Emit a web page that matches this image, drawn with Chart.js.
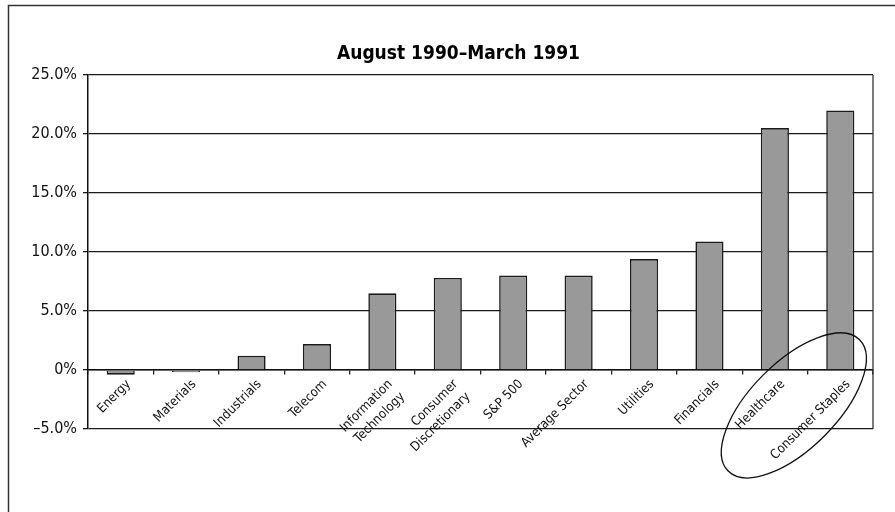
<!DOCTYPE html>
<html>
<head>
<meta charset="utf-8">
<script src="https://cdn.jsdelivr.net/npm/chart.js@4"></script>
<style>
  html, body { margin: 0; padding: 0; background: #fff; }
  #wrap { width: 895px; height: 512px; }
</style>
</head>
<body>
<div id="wrap"><canvas id="sector-chart" width="895" height="512"></canvas></div>
<script>
// Sector returns, August 1990 - March 1991 (percent)
const sectors = [
    'Energy', 'Materials', 'Industrials', 'Telecom',
    ['Information', 'Technology'], ['Consumer', 'Discretionary'],
    'S&P 500', 'Average Sector', 'Utilities', 'Financials',
    'Healthcare', 'Consumer Staples'
];
const returns = [-0.4, -0.2, 1.2, 2.2, 6.5, 7.8, 8.0, 8.0, 9.4, 10.9, 20.5, 22.0];
const yTicks = [-5, 0, 5, 10, 15, 20, 25];
const highlighted = [10, 11]; // Healthcare, Consumer Staples
const titleText = 'August 1990\u2013March 1991';

const narrow = '"Liberation Sans Narrow", "Arial Narrow", "DejaVu Sans Condensed", sans-serif';

const fmtPct = (v) => {
    if (v === 0) return '0%';
    const s = Math.abs(v).toFixed(1) + '%';
    return v < 0 ? '\u2013' + s : s;
};

// Outer frame, title and right edge of the plot box
const framePlugin = {
    id: 'frame',
    beforeDraw(chart) {
        const c = chart.ctx;
        c.save();
        c.strokeStyle = '#333';
        c.lineWidth = 1.5;
        c.beginPath();
        c.moveTo(8.5, chart.height);
        c.lineTo(8.5, 5.5);
        c.lineTo(chart.width, 5.5);
        c.stroke();

        c.fillStyle = '#000';
        c.font = 'bold 19px ' + narrow;
        c.textAlign = 'center';
        c.textBaseline = 'middle';
        c.fillText(titleText, chart.width / 2 + 11, 54);
        c.restore();
    },
    afterDatasetsDraw(chart) {
        const a = chart.chartArea;
        const c = chart.ctx;
        c.save();
        c.strokeStyle = '#333';
        c.lineWidth = 1.3;
        c.beginPath();
        c.moveTo(a.right, a.top);
        c.lineTo(a.right, a.bottom);
        c.stroke();
        c.restore();
    }
};

// Ellipse circling the two top sectors
const ringPlugin = {
    id: 'ring',
    afterDraw(chart) {
        const x = chart.scales.x, y = chart.scales.y;
        const step = x.getPixelForValue(highlighted[1]) - x.getPixelForValue(highlighted[0]);
        const cx = x.getPixelForValue(highlighted[0]) + 0.29 * step;
        const cy = y.getPixelForValue(-3);
        const c = chart.ctx;
        c.save();
        c.strokeStyle = '#111';
        c.lineWidth = 1.3;
        c.beginPath();
        c.ellipse(cx, cy, 1.42 * step, 0.66 * step, -Math.PI / 4, 0, Math.PI * 2);
        c.stroke();
        c.restore();
    }
};

const ctx = document.getElementById('sector-chart').getContext('2d');
new Chart(ctx, {
    type: 'bar',
    data: {
        labels: sectors,
        datasets: [{
            data: returns,
            backgroundColor: '#999999',
            borderColor: '#1a1a1a',
            borderWidth: 1.6,
            barPercentage: 0.43,
            categoryPercentage: 1
        }]
    },
    options: {
        responsive: false,
        animation: false,
        layout: { padding: { left: 0, right: 22, top: 75, bottom: 83 } },
        scales: {
            x: {
                position: { y: 0 },
                grid: {
                    drawOnChartArea: false,
                    drawTicks: true,
                    tickLength: 4,
                    color: '#222',
                    lineWidth: 1.3
                },
                border: { display: true, color: '#111', width: 1.5 },
                ticks: {
                    maxRotation: 45,
                    minRotation: 45,
                    autoSkip: false,
                    padding: 2,
                    labelOffset: 8,
                    color: '#111',
                    font: { family: narrow, size: 13, lineHeight: 1.35 }
                }
            },
            y: {
                min: -5,
                max: 25,
                afterFit: (scale) => { scale.width = 88; },
                afterBuildTicks: (scale) => { scale.ticks = yTicks.map(v => ({ value: v })); },
                grid: {
                    color: '#1a1a1a',
                    lineWidth: 1.3,
                    tickLength: 5
                },
                border: { display: true, color: '#111', width: 1.5 },
                ticks: {
                    padding: 6,
                    color: '#111',
                    font: { family: narrow, size: 16 },
                    callback: (v) => fmtPct(v)
                }
            }
        },
        plugins: {
            legend: { display: false },
            tooltip: { enabled: false },
            title: { display: false }
        }
    },
    plugins: [framePlugin, ringPlugin]
});
</script>
</body>
</html>
